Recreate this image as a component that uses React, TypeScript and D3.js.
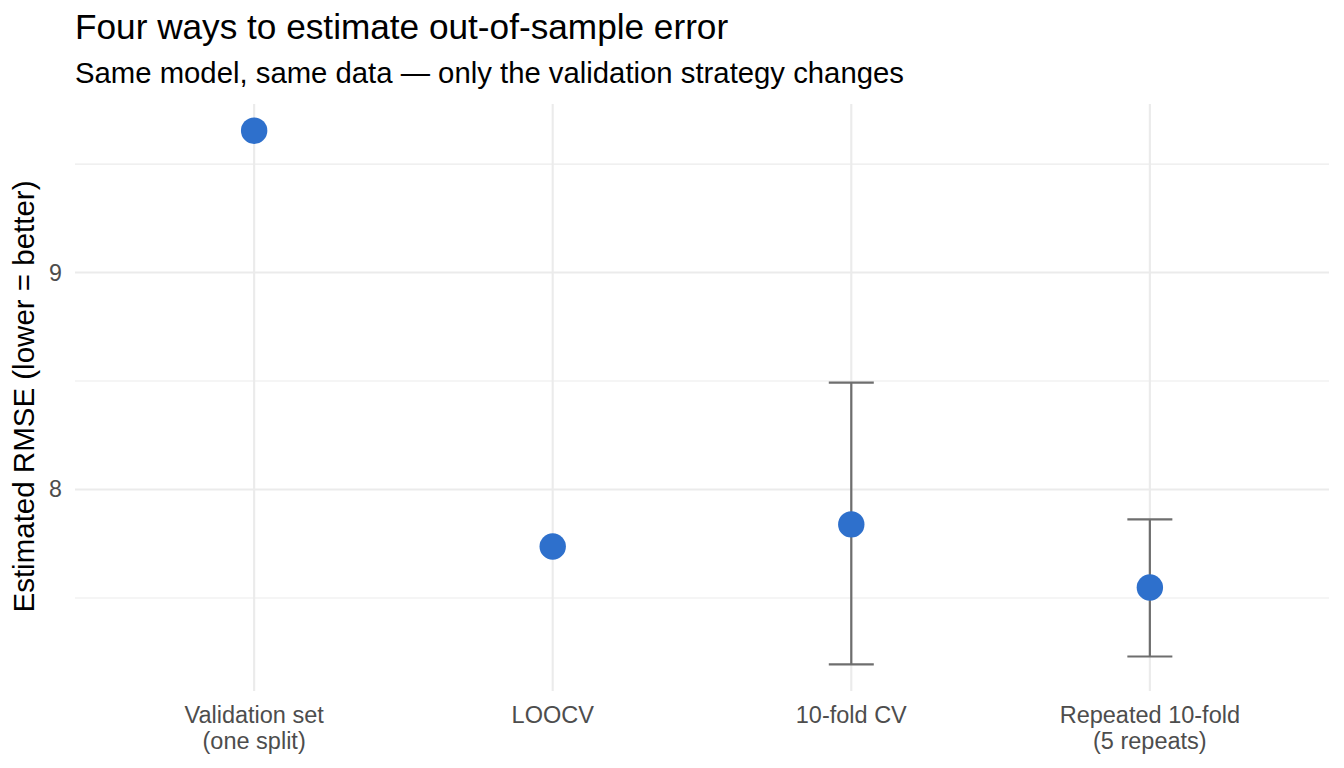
import React from "react";
import * as d3 from "d3";

const categories = ["Validation set\n(one split)", "LOOCV", "10-fold CV", "Repeated 10-fold\n(5 repeats)"];
const estimates = [9.654, 7.737, 7.839, 7.548];
const lowers: (number | null)[] = [null, null, 7.194, 7.230];
const uppers: (number | null)[] = [null, null, 8.493, 7.862];
const yTicks = [8, 9];
const yMinor = [7.5, 8.5, 9.5];

const W = 1344;
const H = 768;
const panel = { left: 75, right: 1329, top: 104, bottom: 691 };

export default function App() {
  const allVals = [...estimates, ...(lowers.filter((v) => v != null) as number[]), ...(uppers.filter((v) => v != null) as number[])];
  const lo = d3.min(allVals)!;
  const hi = d3.max(allVals)!;
  const pad = (hi - lo) * 0.05;
  const y = d3.scaleLinear().domain([lo - pad, hi + pad]).range([panel.bottom, panel.top]);
  const x = d3
    .scalePoint<string>()
    .domain(categories)
    .range([panel.left, panel.right])
    .padding(0.6);
  const font = "'Liberation Sans', Arial, Helvetica, sans-serif";
  return (
    <svg width={W} height={H} style={{ position: "absolute", left: 0, top: 0, background: "#fff" }} fontFamily={font}>
      <rect x={0} y={0} width={W} height={H} fill="#fff" />
      {yMinor.map((v) => (
        <line key={"mi" + v} x1={panel.left} x2={panel.right} y1={y(v)} y2={y(v)} stroke="#ebebeb" strokeWidth={1.1} />
      ))}
      {yTicks.map((v) => (
        <line key={"ma" + v} x1={panel.left} x2={panel.right} y1={y(v)} y2={y(v)} stroke="#ebebeb" strokeWidth={2.1} />
      ))}
      {categories.map((c) => (
        <line key={"vx" + c} x1={x(c)} x2={x(c)} y1={panel.top} y2={panel.bottom} stroke="#ebebeb" strokeWidth={2.1} />
      ))}
      {categories.map((c, i) => {
        const l = lowers[i];
        const u = uppers[i];
        if (l == null || u == null) return null;
        const cx = x(c)!;
        return (
          <g key={"eb" + i} stroke="#6e6e6e" strokeWidth={2.2} fill="none">
            <line x1={cx} x2={cx} y1={y(l)} y2={y(u)} />
            <line x1={cx - 22.5} x2={cx + 22.5} y1={y(l)} y2={y(l)} />
            <line x1={cx - 22.5} x2={cx + 22.5} y1={y(u)} y2={y(u)} />
          </g>
        );
      })}
      {categories.map((c, i) => (
        <circle key={"pt" + i} cx={x(c)} cy={y(estimates[i])} r={13.2} fill="#2e70cc" />
      ))}
      {yTicks.map((v) => (
        <text key={"yt" + v} x={62} y={y(v) + 8} textAnchor="end" fontSize={23.2} fill="#4d4d4d">
          {v}
        </text>
      ))}
      {categories.map((c) => (
        <text key={"xt" + c} x={x(c)} y={723} textAnchor="middle" fontSize={23.5} fill="#4d4d4d">
          {c.split("\n").map((ln, j) => (
            <tspan key={j} x={x(c)} dy={j === 0 ? 0 : 26}>
              {ln}
            </tspan>
          ))}
        </text>
      ))}
      <text
        transform={`translate(34, ${(panel.top + panel.bottom) / 2 - 1}) rotate(-90)`}
        textAnchor="middle"
        fontSize={29.5}
        fill="#000"
      >
        Estimated RMSE (lower = better)
      </text>
      <text x={75} y={39} fontSize={35.2} fill="#000">
        Four ways to estimate out-of-sample error
      </text>
      <text x={75} y={83} fontSize={29.3} fill="#000">
        Same model, same data — only the validation strategy changes
      </text>
    </svg>
  );
}
